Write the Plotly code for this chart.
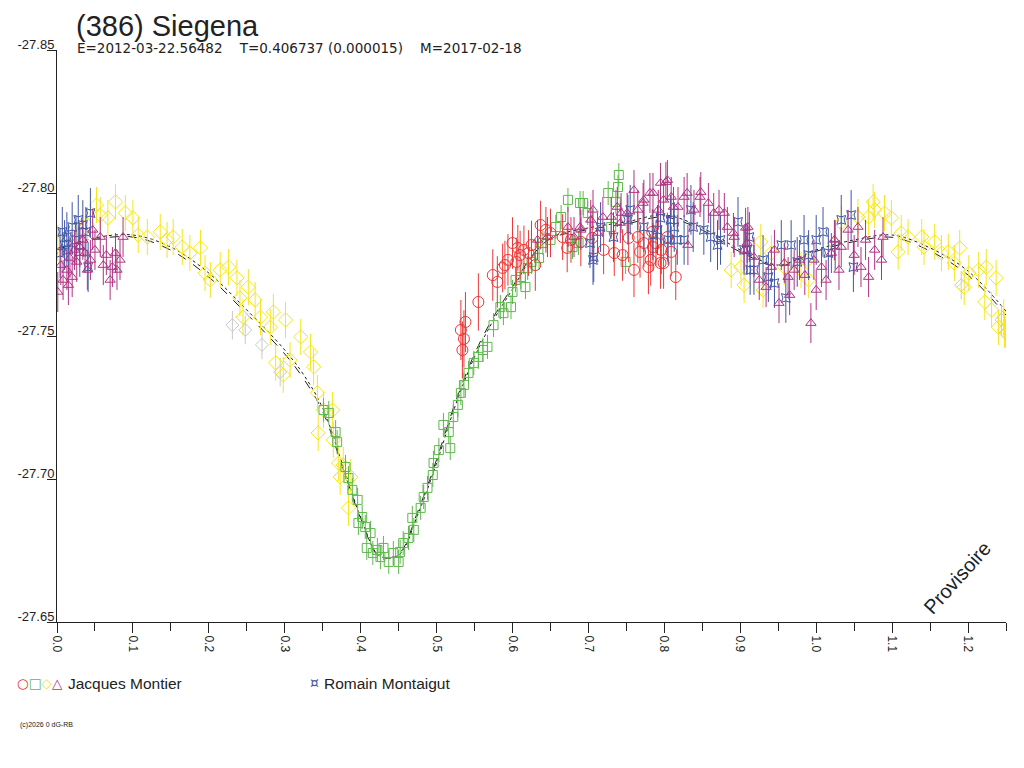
import plotly.graph_objects as go

# light curve of (386) Siegena, phase vs reduced magnitude
model_phase = [0.0, 0.05, 0.1, 0.15, 0.2, 0.25, 0.3, 0.325, 0.35, 0.375, 0.4, 0.425, 0.45, 0.475,
               0.5, 0.525, 0.55, 0.575, 0.6, 0.625, 0.65, 0.7, 0.75, 0.8, 0.85, 0.9, 0.95,
               1.0, 1.05, 1.1, 1.15, 1.2, 1.25]
model_a = [-27.7801, -27.7843, -27.7853, -27.7811, -27.7720, -27.7591, -27.7451, -27.7364, -27.7248,
           -27.7059, -27.6867, -27.6731, -27.6734, -27.6874, -27.7056, -27.7259, -27.7427, -27.7556,
           -27.7664, -27.7773, -27.7843, -27.7878, -27.7899, -27.7923, -27.7878, -27.7801, -27.7748,
           -27.7801, -27.7836, -27.7853, -27.7808, -27.7727, -27.7587]
model_b = [-27.7806, -27.7838, -27.7846, -27.7800, -27.7706, -27.7577, -27.7437, -27.7350, -27.7236,
           -27.7050, -27.6862, -27.6728, -27.6738, -27.6885, -27.7068, -27.7270, -27.7438, -27.7567,
           -27.7672, -27.7778, -27.7840, -27.7872, -27.7892, -27.7916, -27.7870, -27.7794, -27.7744,
           -27.7796, -27.7830, -27.7845, -27.7797, -27.7713, -27.7573]

y_ticks = [-27.85, -27.80, -27.75, -27.70, -27.65]
y_labels = ["-27.85", "-27.80", "-27.75", "-27.70", "-27.65"]

# Jacques Montier - red circles
red_phase = [0.532, 0.534, 0.536, 0.538, 0.555, 0.574, 0.580, 0.587, 0.590, 0.594, 0.600, 0.605,
             0.607, 0.610, 0.615, 0.621, 0.625, 0.630, 0.637, 0.644, 0.650, 0.666, 0.672, 0.677,
             0.690, 0.705, 0.720, 0.734, 0.745, 0.753, 0.760, 0.765, 0.768, 0.773, 0.779, 0.782,
             0.784, 0.785, 0.789, 0.795, 0.796, 0.799, 0.804, 0.809, 0.815]
red_mag = [-27.7521, -27.7451, -27.7490, -27.7549, -27.7619, -27.7713, -27.7689, -27.7738, -27.7748,
           -27.7766, -27.7825, -27.7759, -27.7808, -27.7783, -27.7801, -27.7790, -27.7818, -27.7748,
           -27.7888, -27.7871, -27.7860, -27.7846, -27.7808, -27.7836, -27.7829, -27.7843, -27.7801,
           -27.7790, -27.7783, -27.7843, -27.7731, -27.7846, -27.7794, -27.7825, -27.7741, -27.7766,
           -27.7864, -27.7811, -27.7825, -27.7755, -27.7801, -27.7755, -27.7846, -27.7794, -27.7706]
red_err = [0.0105, 0.0100, 0.0100, 0.0105, 0.0100, 0.0090, 0.0090, 0.0085, 0.0085, 0.0090, 0.0090,
           0.0085, 0.0080, 0.0085, 0.0085, 0.0080, 0.0085, 0.0090, 0.0085, 0.0080, 0.0085, 0.0080,
           0.0085, 0.0080, 0.0085, 0.0080, 0.0085, 0.0080, 0.0090, 0.0085, 0.0095, 0.0090, 0.0090,
           0.0085, 0.0095, 0.0090, 0.0080, 0.0085, 0.0080, 0.0090, 0.0085, 0.0090, 0.0085, 0.0085,
           0.0080]

# Jacques Montier - green squares
green_phase = [0.351, 0.358, 0.367, 0.369, 0.380, 0.384, 0.389, 0.396, 0.397, 0.402, 0.406, 0.408,
               0.413, 0.416, 0.422, 0.426, 0.430, 0.437, 0.443, 0.450, 0.452, 0.456, 0.463, 0.468,
               0.470, 0.479, 0.483, 0.488, 0.495, 0.496, 0.503, 0.509, 0.516, 0.518, 0.522, 0.528,
               0.532, 0.536, 0.542, 0.549, 0.555, 0.561, 0.567, 0.575, 0.584, 0.588, 0.598, 0.600,
               0.604, 0.611, 0.617, 0.620, 0.625, 0.635, 0.640, 0.650, 0.657, 0.664, 0.673, 0.679,
               0.687, 0.689, 0.693, 0.699, 0.726, 0.730, 0.736, 0.739, 0.740, 0.749]
green_mag = [-27.7241, -27.7231, -27.7164, -27.7129, -27.7042, -27.7003, -27.6962, -27.6927, -27.6846,
             -27.6867, -27.6832, -27.6759, -27.6811, -27.6741, -27.6752, -27.6727, -27.6759, -27.6710,
             -27.6741, -27.6710, -27.6745, -27.6776, -27.6794, -27.6864, -27.6822, -27.6899, -27.6937,
             -27.6969, -27.7014, -27.7056, -27.7101, -27.7189, -27.7164, -27.7108, -27.7217, -27.7259,
             -27.7301, -27.7329, -27.7371, -27.7406, -27.7427, -27.7451, -27.7462, -27.7538, -27.7601,
             -27.7580, -27.7601, -27.7654, -27.7696, -27.7706, -27.7671, -27.7738, -27.7759, -27.7773,
             -27.7825, -27.7836, -27.7881, -27.7916, -27.7976, -27.7811, -27.7825, -27.7965, -27.7965,
             -27.7930, -27.8000, -27.7881, -27.7969, -27.8021, -27.8063, -27.7759]
green_err = 0.0042

# Jacques Montier - yellow diamonds
yellow_phase = [0.001, 0.025, 0.040, 0.052, 0.057, 0.067, 0.077, 0.090, 0.100, 0.107, 0.119, 0.136,
                0.145, 0.153, 0.165, 0.175, 0.189, 0.195, 0.202, 0.215, 0.226, 0.237, 0.241, 0.245,
                0.252, 0.261, 0.268, 0.281, 0.285, 0.288, 0.298, 0.301, 0.307, 0.321, 0.334, 0.338,
                0.343, 0.344, 0.351, 0.363, 0.364, 0.371, 0.373, 0.377, 0.384, 0.387,
                0.888, 0.901, 0.905, 0.927, 0.930, 0.941, 0.958, 0.980, 0.989, 0.990, 1.024, 1.033,
                1.055, 1.069, 1.075, 1.077, 1.090, 1.099, 1.108, 1.112, 1.121, 1.139, 1.142, 1.156,
                1.165, 1.174, 1.182, 1.189, 1.195, 1.201, 1.214, 1.222, 1.224, 1.231, 1.237, 1.240,
                1.247, 1.248]
yellow_mag = [-27.7825, -27.7836, -27.7888, -27.7958, -27.7923, -27.7913, -27.7969, -27.7930, -27.7913,
              -27.7853, -27.7846, -27.7864, -27.7836, -27.7846, -27.7811, -27.7790, -27.7808, -27.7720,
              -27.7696, -27.7731, -27.7741, -27.7703, -27.7633, -27.7566, -27.7671, -27.7626, -27.7566,
              -27.7531, -27.7584, -27.7406, -27.7364, -27.7556, -27.7416, -27.7497, -27.7444, -27.7392,
              -27.7301, -27.7161, -27.7241, -27.7241, -27.7136, -27.7056, -27.7007, -27.7049, -27.6899,
              -27.7007,
              -27.7731, -27.7741, -27.7678, -27.7829, -27.7661, -27.7790, -27.7741, -27.7731, -27.7766,
              -27.7696, -27.7825, -27.7895, -27.7916, -27.7916, -27.7969, -27.7941, -27.7930, -27.7913,
              -27.7794, -27.7860, -27.7846, -27.7846, -27.7811, -27.7829, -27.7790, -27.7794, -27.7755,
              -27.7808, -27.7671, -27.7720, -27.7731, -27.7619, -27.7741, -27.7591, -27.7703, -27.7531,
              -27.7566, -27.7521]
yellow_err = 0.0063

# Jacques Montier - magenta triangles
magenta_phase = [0.001, 0.005, 0.008, 0.013, 0.015, 0.017, 0.020, 0.023, 0.026, 0.030, 0.034, 0.037,
                 0.040, 0.044, 0.047, 0.050, 0.057, 0.061, 0.065, 0.070, 0.073, 0.077, 0.079, 0.083,
                 0.087,
                 0.633, 0.646, 0.673, 0.681, 0.689, 0.690, 0.703, 0.706, 0.712, 0.719, 0.730, 0.738,
                 0.742, 0.743, 0.751, 0.760, 0.765, 0.772, 0.773, 0.781, 0.785, 0.792, 0.795, 0.799,
                 0.802, 0.804, 0.809, 0.812, 0.818, 0.826, 0.830, 0.831, 0.839, 0.847, 0.848, 0.858,
                 0.865, 0.872, 0.879, 0.883, 0.891, 0.892, 0.905, 0.907, 0.909, 0.910, 0.918, 0.925,
                 0.934, 0.941, 0.945, 0.951, 0.958, 0.963, 0.965, 0.971, 0.978, 0.985, 0.993, 0.997,
                 1.000, 1.007, 1.013, 1.020, 1.024, 1.030, 1.033, 1.042, 1.050, 1.055, 1.059, 1.065,
                 1.069, 1.077, 1.086, 1.088]
magenta_mag = [-27.7654, -27.7748, -27.7696, -27.7731, -27.7678, -27.7773, -27.7706, -27.7801, -27.7759,
               -27.7811, -27.7836, -27.7790, -27.7731, -27.7766, -27.7871, -27.7801, -27.7846, -27.7748,
               -27.7783, -27.7696, -27.7741, -27.7790, -27.7731, -27.7766, -27.7846,
               -27.7836, -27.7846, -27.7881, -27.7846, -27.7881, -27.7871, -27.7906, -27.7941, -27.7860,
               -27.7916, -27.7916, -27.7951, -27.7895, -27.7930, -27.7930, -27.8010, -27.7941, -27.7965,
               -27.7976, -27.8000, -27.8000, -27.7941, -27.8035, -27.7976, -27.8038, -27.8045, -27.7986,
               -27.7951, -27.7951, -27.7986, -27.8000, -27.7818, -27.7941, -27.7986, -27.8003, -27.7965,
               -27.7930, -27.7941, -27.7930, -27.7881, -27.7860, -27.7846, -27.7801, -27.7878, -27.7825,
               -27.7881, -27.7776, -27.7696, -27.7671, -27.7741, -27.7801, -27.7615, -27.7755, -27.7706,
               -27.7643, -27.7731, -27.7766, -27.7713, -27.7545, -27.7766, -27.7661, -27.7741, -27.7696,
               -27.7790, -27.7836, -27.7731, -27.7811, -27.7871, -27.7783, -27.7881, -27.7741, -27.7836,
               -27.7706, -27.7801, -27.7766, -27.7846]
magenta_err = 0.0070

# Romain Montaigut - blue
blue_phase = [0.004, 0.007, 0.010, 0.013, 0.015, 0.020, 0.025, 0.028, 0.030, 0.034, 0.038, 0.041,
              0.044,
              0.702, 0.706, 0.707, 0.716, 0.733, 0.752, 0.755, 0.773, 0.785, 0.791, 0.795, 0.805,
              0.808, 0.813, 0.817, 0.826, 0.835, 0.838, 0.852, 0.861, 0.870, 0.874, 0.897, 0.905,
              0.909, 0.912, 0.913, 0.918, 0.930, 0.937, 0.945, 0.954, 0.960, 0.967, 0.975, 0.984,
              0.990, 1.000, 1.009, 1.016, 1.025, 1.033, 1.046, 1.049]
blue_mag = [-27.7790, -27.7864, -27.7818, -27.7846, -27.7801, -27.7881, -27.7836, -27.7906, -27.7794,
            -27.7888, -27.7864, -27.7741, -27.7930,
            -27.7825, -27.7766, -27.7776, -27.7881, -27.7846, -27.7906, -27.7941, -27.7881, -27.7853,
            -27.7871, -27.7913, -27.7836, -27.7906, -27.7881, -27.7836, -27.7836, -27.7941, -27.7881,
            -27.7871, -27.7846, -27.7818, -27.7836, -27.7899, -27.7801, -27.7801, -27.7846, -27.7731,
            -27.7731, -27.7766, -27.7706, -27.7685, -27.7818, -27.7633, -27.7818, -27.7759, -27.7836,
            -27.7783, -27.7836, -27.7864, -27.7790, -27.7818, -27.7906, -27.7923, -27.7741]
blue_err = 0.0087

# older points in grey
grey_phase = [0.231, 0.248, 0.270, 0.294, 1.191, 1.244, 1.249]
grey_mag = [-27.7538, -27.7521, -27.7469, -27.7374, -27.7678, -27.7556, -27.7510]
grey_err = 0.0050

# plot area in screen pixels; the page body adds an 8px offset
L, R, T, B = 57, 1006, 50, 622
OFF = 8
INK = "#222222"


def px(x):
    return (x - L) / (R - L)


def py(y):
    return (B - y) / (B - T)


def series(xs, ys, err, color, symbol, size):
    if isinstance(err, list):
        ey = dict(type="data", array=err, color=color, thickness=1, width=0)
    else:
        ey = dict(type="constant", value=err, color=color, thickness=1, width=0)
    return go.Scatter(
        x=xs, y=ys, mode="markers",
        marker=dict(symbol=symbol, size=size, color=color, line=dict(width=1, color=color)),
        error_y=ey, hoverinfo="x+y"
    )


fig = go.Figure()
fig.add_trace(go.Scatter(x=model_phase, y=model_a, mode="lines", line_shape="spline",
                         line=dict(color="#202020", width=1, dash="dot")))
fig.add_trace(go.Scatter(x=model_phase, y=model_b, mode="lines", line_shape="spline",
                         line=dict(color="#202020", width=1, dash="dash")))
fig.add_trace(series(grey_phase, grey_mag, grey_err, "#C8C8C8", "diamond-open", 10))
fig.add_trace(series(yellow_phase, yellow_mag, yellow_err, "#F5E61E", "diamond-open", 11))
fig.add_trace(series(green_phase, green_mag, green_err, "#5DB94B", "square-open", 9))
fig.add_trace(series(red_phase, red_mag, red_err, "#EE3535", "circle-open", 11))
fig.add_trace(series(blue_phase, blue_mag, blue_err, "#3F56A6", "star-square-open", 8))
fig.add_trace(series(magenta_phase, magenta_mag, magenta_err, "#B03282", "triangle-up-open", 9))

fig.update_layout(
    width=1024, height=768,
    margin=dict(l=L - OFF, r=1024 - R + OFF, t=T - OFF, b=768 - B + OFF),
    paper_bgcolor="white", plot_bgcolor="white",
    showlegend=False,
    font=dict(family="Liberation Sans, Arial", size=12, color=INK),
)
fig.update_xaxes(
    range=[0, 1.25], dtick=0.1, tick0=0, tickformat=".1f", tickangle=90,
    ticks="outside", ticklen=10, tickcolor=INK,
    minor=dict(dtick=0.05, ticks="outside", ticklen=8, tickcolor=INK),
    showline=True, linecolor=INK, linewidth=1, automargin=False,
    showgrid=False, zeroline=False, tickfont=dict(size=12),
)
fig.update_yaxes(
    range=[-27.65, -27.85], tickvals=y_ticks, ticktext=y_labels,
    ticks="outside", ticklen=9, tickcolor=INK,
    ticklabelstandoff=-10, ticklabelshift=6,
    showline=True, linecolor=INK, linewidth=1, automargin=False,
    showgrid=False, zeroline=False, tickfont=dict(size=13),
)

fig.add_annotation(text="(386) Siegena", xref="paper", yref="paper", x=px(74), y=py(26),
                   xanchor="left", yanchor="middle", showarrow=False,
                   font=dict(size=29, color=INK))
fig.add_annotation(text="E=2012-03-22.56482&nbsp;&nbsp;&nbsp;&nbsp;T=0.406737 (0.000015)&nbsp;&nbsp;&nbsp;&nbsp;M=2017-02-18",
                   xref="paper", yref="paper", x=px(75), y=py(48),
                   xanchor="left", yanchor="middle", showarrow=False,
                   font=dict(family="DejaVu Sans", size=13.5, color=INK))
fig.add_annotation(text="<span style='color:#EE3535'>○</span><span style='color:#5DB94B'>□</span>"
                        "<span style='color:#F5E61E'>◇</span><span style='color:#B03282'>△</span>",
                   xref="paper", yref="paper", x=px(15), y=py(683),
                   xanchor="left", yanchor="middle", showarrow=False,
                   font=dict(family="DejaVu Sans", size=13.5, color=INK))
fig.add_annotation(text="Jacques Montier", xref="paper", yref="paper", x=px(66), y=py(683),
                   xanchor="left", yanchor="middle", showarrow=False,
                   font=dict(size=15.5, color=INK))
fig.add_annotation(text="<span style='color:#3F56A6'>¤</span>", xref="paper", yref="paper",
                   x=px(308), y=py(683), xanchor="left", yanchor="middle", showarrow=False,
                   font=dict(family="DejaVu Sans", size=14, color=INK))
fig.add_annotation(text="Romain Montaigut", xref="paper", yref="paper", x=px(322), y=py(683),
                   xanchor="left", yanchor="middle", showarrow=False,
                   font=dict(size=15.5, color=INK))
fig.add_annotation(text="(c)2026 0 dG-RB", xref="paper", yref="paper", x=px(18), y=py(725),
                   xanchor="left", yanchor="middle", showarrow=False,
                   font=dict(size=7, color=INK))
fig.add_annotation(text="Provisoire", xref="paper", yref="paper", x=px(957), y=py(578),
                   xanchor="center", yanchor="middle", showarrow=False, textangle=-48,
                   font=dict(size=20, color=INK))

fig.write_html("out.html")
